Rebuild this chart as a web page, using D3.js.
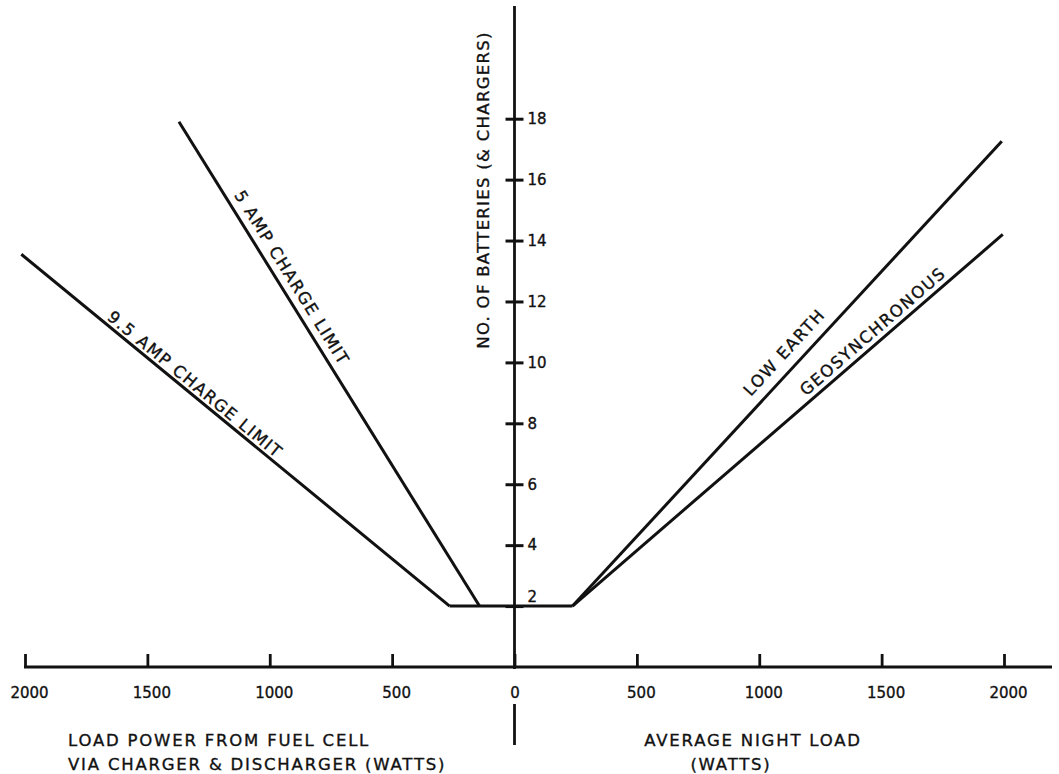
<!DOCTYPE html>
<html>
<head>
<meta charset="utf-8">
<script src="https://cdn.jsdelivr.net/npm/d3@7"></script>
<style>
  body { margin: 0; background: #fff; }
  svg { display: block; }
  text { font-family: "DejaVu Sans", sans-serif; fill: #111; stroke: #111; stroke-width: 0.35px; }
</style>
</head>
<body>
<div id="chart"></div>
<script>
// data
var xTickValues = [-2000, -1500, -1000, -500, 0, 500, 1000, 1500, 2000];
var yTickValues = [2, 4, 6, 8, 10, 12, 14, 16, 18];
var nineFiveAmp = [{x: -2015, y: 13.55}, {x: -265, y: 2}];
var fiveAmp = [{x: -1371, y: 17.9}, {x: -143, y: 2}];
var plateau = [{x: -265, y: 2}, {x: 237, y: 2}];
var lowEarth = [{x: 237, y: 2}, {x: 1991, y: 17.26}];
var geosync = [{x: 237, y: 2}, {x: 1995, y: 14.2}];

var seriesNames = ["9.5 AMP CHARGE LIMIT", "5 AMP CHARGE LIMIT", "LOW EARTH", "GEOSYNCHRONOUS"];
var seriesData = [nineFiveAmp, fiveAmp, lowEarth, geosync];
// where along each line its label sits (data x) and how far above the line
var labelAt = [-1330, -957, 1152, 1495];
var labelLift = [-4, -8, -11, -6];

var width = 1059, height = 774;

var svg = d3.select("#chart").append("svg")
	.attr("width", width)
	.attr("height", height);
svg.append("rect").attr("width", width).attr("height", height).attr("fill", "#fff");

//Escalas
var x = d3.scaleLinear().domain([-2000, 2000]).range([25, 1004]);
var y = d3.scaleLinear().domain([0, 21.7]).range([667, 6]);

//Eixo x
var xAxis = svg.append("g")
	.attr("transform", "translate(0," + y(0) + ")")
	.call(d3.axisBottom(x)
		.tickValues(xTickValues)
		.tickSize(-13)
		.tickPadding(20)
		.tickFormat(function(d) { return Math.abs(d); }));
xAxis.select(".domain").remove();
xAxis.selectAll(".tick line").attr("stroke", "#111").attr("stroke-width", 2.8);
xAxis.selectAll(".tick text")
	.attr("font-size", 15)
	.attr("font-family", "DejaVu Sans")
	.attr("fill", "#111")
	.attr("dx", function(d) { return d === 0 ? 0 : 4; });
svg.append("line")
	.attr("x1", x(-2000) - 1).attr("x2", 1052)
	.attr("y1", y(0)).attr("y2", y(0))
	.attr("stroke", "#111").attr("stroke-width", 2.8);

//Eixo y
var yAxis = svg.append("g")
	.attr("transform", "translate(" + x(0) + ",0)")
	.call(d3.axisRight(y)
		.tickValues(yTickValues)
		.tickSize(9)
		.tickPadding(4));
yAxis.select(".domain").remove();
yAxis.selectAll(".tick line")
	.attr("x1", -9)
	.attr("stroke", "#111").attr("stroke-width", 3);
yAxis.selectAll(".tick text")
	.attr("font-size", 15)
	.attr("font-family", "DejaVu Sans")
	.attr("fill", "#111")
	.attr("dy", function(d) { return d === 2 ? "-0.3em" : "0.32em"; });
svg.append("line")
	.attr("x1", x(0)).attr("x2", x(0))
	.attr("y1", y.range()[1]).attr("y2", y(0) + 2)
	.attr("stroke", "#111").attr("stroke-width", 2.8);

svg.append("text")
	.attr("transform", "translate(" + (x(0) - 26) + ",190) rotate(-90)")
	.attr("text-anchor", "middle")
	.attr("font-size", 16.5)
	.attr("letter-spacing", 1.3)
	.text("NO. OF BATTERIES (& CHARGERS)");

//Linhas
var line = d3.line()
	.x(function(d) { return x(d.x); })
	.y(function(d) { return y(d.y); });

svg.selectAll(".series")
	.data(seriesData.concat([plateau]))
	.enter()
	.append("path")
	.attr("class", "series")
	.attr("fill", "none")
	.attr("stroke", "#111")
	.attr("stroke-width", 3)
	.attr("stroke-linejoin", "round")
	.attr("d", function(d) { return line(d); });

//Rotulos das linhas
seriesData.forEach(function(d, i) {
	var a = d[0], b = d[1];
	var t = (labelAt[i] - a.x) / (b.x - a.x);
	var py = a.y + t * (b.y - a.y);
	var px1 = x(a.x), py1 = y(a.y), px2 = x(b.x), py2 = y(b.y);
	var ang = Math.atan2(py2 - py1, px2 - px1) * 180 / Math.PI;
	if (ang > 90) ang -= 180;
	if (ang < -90) ang += 180;
	svg.append("text")
		.attr("transform", "translate(" + x(labelAt[i]) + "," + y(py) + ") rotate(" + ang + ")")
		.attr("text-anchor", "middle")
		.attr("dy", labelLift[i])
		.attr("font-size", 16.5)
		.attr("letter-spacing", 1.5)
		.text(seriesNames[i]);
});

//Titulos do eixo x
svg.append("line")
	.attr("x1", x(0)).attr("x2", x(0))
	.attr("y1", 704).attr("y2", 745)
	.attr("stroke", "#111").attr("stroke-width", 2.8);

var leftTitle = svg.append("text")
	.attr("x", 68).attr("font-size", 16.5).attr("letter-spacing", 1.8);
leftTitle.append("tspan").attr("x", 68).attr("y", 746).text("LOAD POWER FROM FUEL CELL");
leftTitle.append("tspan").attr("x", 68).attr("y", 770).text("VIA CHARGER & DISCHARGER (WATTS)");

var rightTitle = svg.append("text")
	.attr("text-anchor", "middle").attr("font-size", 16.5).attr("letter-spacing", 1.8);
rightTitle.append("tspan").attr("x", 753).attr("y", 746).text("AVERAGE NIGHT LOAD");
rightTitle.append("tspan").attr("x", 731).attr("y", 770).text("(WATTS)");
</script>
</body>
</html>
